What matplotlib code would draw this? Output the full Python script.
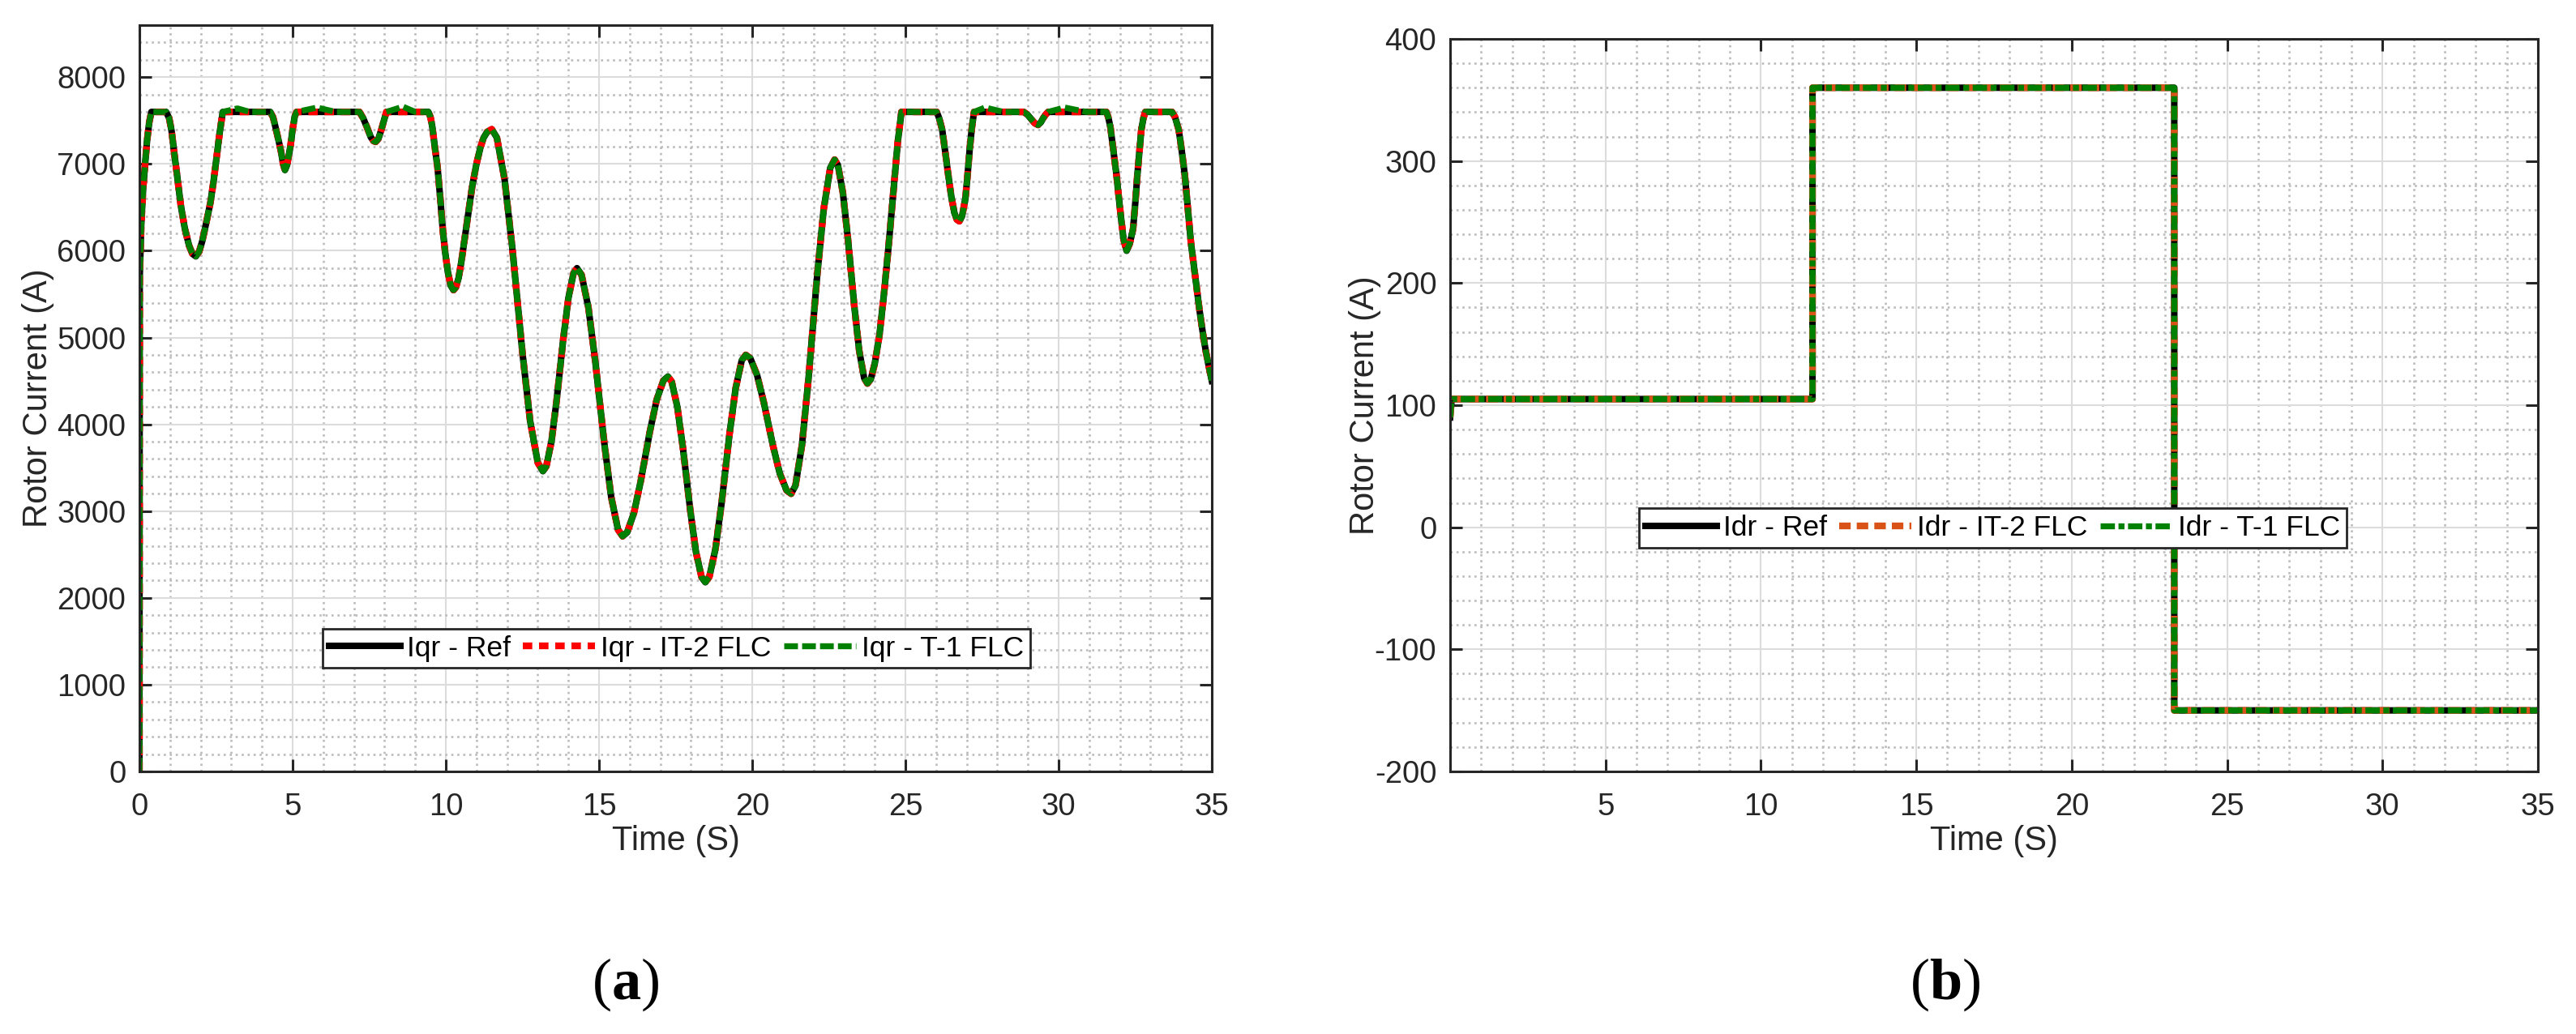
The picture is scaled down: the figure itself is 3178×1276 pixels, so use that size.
import numpy as np
import matplotlib
matplotlib.use('Agg')
import matplotlib.pyplot as plt
from matplotlib.ticker import MultipleLocator

plt.rcParams['font.family'] = ['Liberation Sans', 'DejaVu Sans']
plt.rcParams['axes.unicode_minus'] = False
plt.rcParams['mathtext.fontset'] = 'custom'
plt.rcParams['mathtext.rm'] = 'Liberation Serif'
plt.rcParams['mathtext.bf'] = 'Liberation Serif:bold'

# ---- panel (a): q-axis rotor current ----
t_iqr = [0.0, 0.01, 0.06, 0.12, 0.19, 0.25, 0.32, 0.39, 0.87,
         0.97, 1.05, 1.13, 1.24, 1.35, 1.48, 1.62, 1.73, 1.84,
         1.95, 2.05, 2.18, 2.32, 2.42, 2.52, 2.62, 2.72,
         3.2, 3.6, 4.27,
         4.36, 4.44, 4.53, 4.62, 4.69, 4.75, 4.82, 4.93, 5.00, 5.07, 5.13,
         5.8, 6.4, 7.18,
         7.30, 7.42, 7.55, 7.64, 7.71, 7.80, 7.90, 7.98, 8.06,
         8.6, 9.0, 9.43,
         9.50, 9.56, 9.64, 9.73, 9.82, 9.90, 9.98, 10.07, 10.16, 10.25,
         10.33, 10.42, 10.51, 10.60, 10.73, 10.86, 11.00, 11.13, 11.23, 11.35, 11.50,
         11.667, 11.918, 12.168, 12.335, 12.502, 12.753, 13.003, 13.17,
         13.281, 13.448, 13.614, 13.725, 13.836, 14.003, 14.169, 14.28,
         14.429, 14.653, 14.876, 15.025, 15.174, 15.398, 15.621, 15.77,
         15.918, 16.140, 16.362, 16.510, 16.658, 16.880, 17.102, 17.25,
         17.372, 17.555, 17.738, 17.860, 17.982, 18.165, 18.348, 18.47,
         18.602, 18.800, 18.998, 19.130, 19.262, 19.460, 19.658, 19.79,
         19.938, 20.160, 20.382, 20.530, 20.678, 20.900, 21.122, 21.27,
         21.412, 21.625, 21.838, 21.980, 22.122, 22.335, 22.548, 22.69,
         22.797, 22.958, 23.118, 23.225, 23.332, 23.493, 23.653, 23.76,
         23.87, 24.00, 24.15, 24.30, 24.45, 24.60, 24.75, 24.87,
         25.5, 26.02,
         26.10, 26.20, 26.30, 26.40, 26.50, 26.60, 26.68, 26.76,
         26.85, 26.96, 27.03, 27.10, 27.17, 27.24,
         27.6, 28.2, 28.86,
         28.98, 29.10, 29.22, 29.33, 29.42, 29.50, 29.58, 29.66,
         30.2, 30.9, 31.56,
         31.62, 31.69, 31.79, 31.89, 31.96, 32.03, 32.12, 32.22,
         32.32, 32.43, 32.50, 32.57, 32.64, 32.70, 32.77, 32.83,
         33.2, 33.70,
         33.80, 33.92, 34.02, 34.12, 34.22, 34.32, 34.46, 34.60, 34.70, 34.80, 34.90, 35.0]
iqr_ref = [0, 5700, 6300, 6710, 7020, 7270, 7480, 7600, 7600,
           7530, 7380, 7146, 6840, 6525, 6260, 6060, 5965, 5935,
           5990, 6110, 6320, 6560, 6800, 7080, 7360, 7600,
           7600, 7600, 7600,
           7540, 7426, 7290, 7146, 7000, 6930, 6990, 7208, 7400, 7550, 7600,
           7600, 7600, 7600,
           7530, 7430, 7310, 7265, 7255, 7290, 7400, 7500, 7600,
           7600, 7600, 7600,
           7540, 7426, 7200, 6960, 6600, 6245, 5980, 5748, 5600, 5547,
           5580, 5690, 5880, 6100, 6420, 6740, 7000, 7190, 7300, 7370, 7400,
           7303, 6823, 6039, 5430, 4821, 4037, 3557, 3460,
           3517, 3803, 4268, 4630, 4992, 5457, 5743, 5800,
           5724, 5348, 4732, 4255, 3778, 3162, 2786, 2710,
           2755, 2979, 3346, 3630, 3914, 4281, 4505, 4550,
           4492, 4203, 3731, 3365, 2999, 2527, 2238, 2180,
           2244, 2564, 3085, 3490, 3895, 4416, 4736, 4800,
           4761, 4566, 4247, 4000, 3753, 3434, 3239, 3200,
           3294, 3764, 4530, 5125, 5720, 6486, 6956, 7050,
           6987, 6672, 6159, 5760, 5361, 4848, 4533, 4470,
           4520, 4700, 5020, 5500, 6050, 6650, 7250, 7600,
           7600, 7600,
           7530, 7396, 7140, 6870, 6620, 6435, 6360, 6340,
           6400, 6607, 6880, 7177, 7420, 7600,
           7600, 7600, 7600,
           7570, 7520, 7470, 7450, 7480, 7530, 7570, 7600,
           7600, 7600, 7600,
           7540, 7427, 7150, 6870, 6630, 6405, 6130, 6000,
           6080, 6249, 6540, 6870, 7150, 7396, 7530, 7600,
           7600, 7600,
           7540, 7396, 7150, 6870, 6480, 6090, 5700, 5312, 5070, 4850, 4670, 4500]
iqr_it2 = list(iqr_ref)
# small ripples of the T-1 controller on the plateaus
t1_bump_t = [3.2, 5.8, 8.6, 27.6, 30.2]
t1_bump_v = [7640, 7650, 7660, 7650, 7650]

# ---- panel (b): d-axis rotor current ----
t_idr = [0.0, 0.05, 11.66, 11.66, 23.3, 23.3, 35.0]
idr_ref = [90, 105, 105, 360, 360, -150, -150]
idr_it2 = list(idr_ref)
idr_t1 = list(idr_ref)

iqr_t1 = np.array(iqr_ref, dtype=float)
for bt, bv in zip(t1_bump_t, t1_bump_v):
    iqr_t1[t_iqr.index(bt)] = bv

W, H = 3178, 1276
fig = plt.figure(figsize=(W / 100, H / 100), dpi=100)


def px_axes(l, t, r, b):
    return fig.add_axes([l / W, 1 - b / H, (r - l) / W, (b - t) / H])


ax1 = px_axes(172, 31, 1495, 952)
ax2 = px_axes(1789, 48, 3131, 952)

dark = '#262626'


def style(ax, xmaj, xmin, ymaj, ymin):
    ax.xaxis.set_major_locator(MultipleLocator(xmaj))
    ax.xaxis.set_minor_locator(MultipleLocator(xmin))
    ax.yaxis.set_major_locator(MultipleLocator(ymaj))
    ax.yaxis.set_minor_locator(MultipleLocator(ymin))
    ax.grid(True, which='major', color='#dcdcdc', lw=1.5, ls='-')
    ax.grid(True, which='minor', color='#bcbcbc', lw=1.9, ls=(0, (1, 1.8)))
    ax.set_axisbelow(True)
    ax.tick_params(which='major', direction='in', length=10.8, width=2.2,
                   top=True, right=True, colors=dark, labelsize=27.5)
    ax.tick_params(axis='x', which='major', pad=18.5)
    ax.tick_params(axis='y', which='major', pad=12)
    ax.tick_params(which='minor', length=0)
    for s in ax.spines.values():
        s.set_linewidth(2.2)
        s.set_color(dark)


legend_kw = dict(loc='center', ncol=3, fontsize=25.5, handlelength=2.5,
                 handletextpad=0.2, columnspacing=0.45, borderpad=0.22,
                 fancybox=False, framealpha=1, edgecolor=dark)

# panel (a)
ax1.plot(t_iqr, iqr_ref, color='black', lw=5.8, label='Iqr - Ref')
ax1.plot(t_iqr, iqr_it2, color='#ff0000', lw=6.0, ls=(0, (1.4, 1.0)), label='Iqr - IT-2 FLC')
ax1.plot(t_iqr, iqr_t1, color='#008000', lw=5.3, ls=(0, (2.3, 0.7)), label='Iqr - T-1 FLC')
ax1.set_xlim(0, 35)
ax1.set_ylim(0, 8600)
style(ax1, 5, 1, 1000, 200)
ax1.set_yticks(np.arange(0, 8001, 1000))
ax1.set_xlabel('Time (S)', fontsize=30, color=dark)
ax1.set_ylabel('Rotor Current (A)', fontsize=30, color=dark)
ax1.xaxis.set_label_coords(0.5, -0.0717)
ax1.yaxis.set_label_coords(-0.079, 0.5)
leg1 = ax1.legend(bbox_to_anchor=(0.5008, 0.165), **legend_kw)
leg1.get_frame().set_linewidth(2.0)

# panel (b)
ax2.plot(t_idr, idr_ref, color='black', lw=5.8, label='Idr - Ref')
ax2.plot(t_idr, idr_it2, color='#D95319', lw=6.0, ls=(0, (1.7, 0.9)), label='Idr - IT-2 FLC')
ax2.plot(t_idr, idr_t1, color='#008000', lw=5.3, ls=(0, (2.4, 0.6, 1.0, 0.6)), label='Idr - T-1 FLC')
ax2.set_xlim(0, 35)
ax2.set_ylim(-200, 400)
style(ax2, 5, 1, 100, 20)
ax2.set_xticks(np.arange(5, 36, 5))
ax2.set_xlabel('Time (S)', fontsize=30, color=dark)
ax2.set_ylabel('Rotor Current (A)', fontsize=30, color=dark)
ax2.xaxis.set_label_coords(0.5, -0.073)
ax2.yaxis.set_label_coords(-0.063, 0.5)
leg2 = ax2.legend(bbox_to_anchor=(0.4989, 0.3324), **legend_kw)
leg2.get_frame().set_linewidth(2.0)

# sub-figure captions
fig.text(772 / W, 1 - 1215 / H, r'($\mathbf{a}$)', family='Liberation Serif',
         fontsize=52, ha='center', va='center')
fig.text(2400 / W, 1 - 1215 / H, r'($\mathbf{b}$)', family='Liberation Serif',
         fontsize=52, ha='center', va='center')

fig.savefig('out.png', dpi=100, facecolor='white')
